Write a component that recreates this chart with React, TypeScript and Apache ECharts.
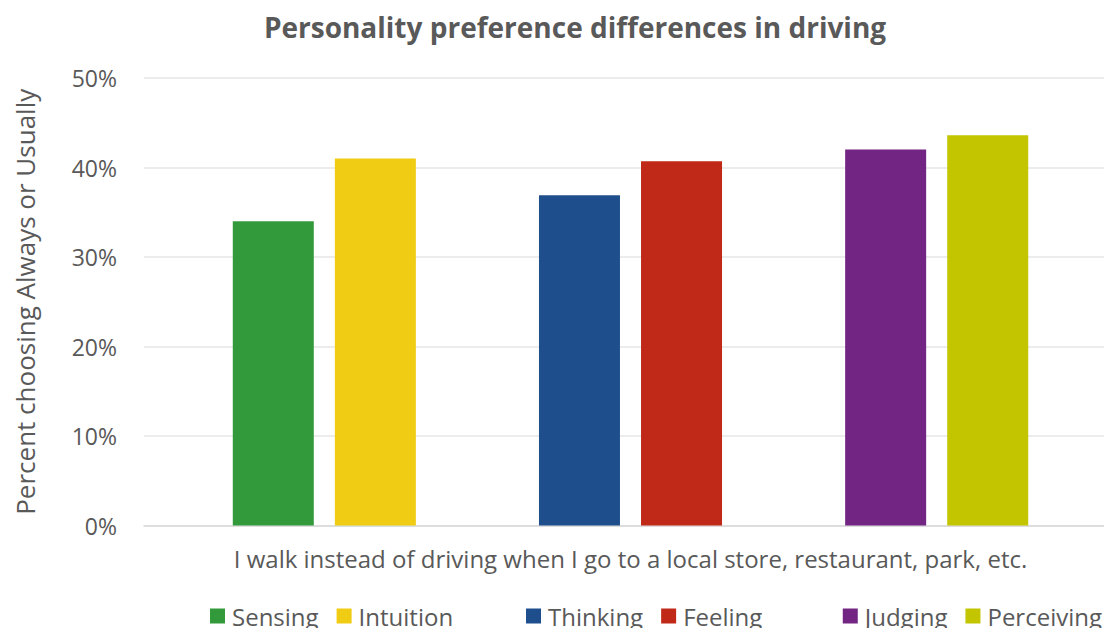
import React, { useEffect, useRef } from "react";
import * as echarts from "echarts";

const title = "Personality preference differences in driving";
const categories = [
  "I walk instead of driving when I go to a local store, restaurant, park, etc.",
];
const seriesNames = ["Sensing", "Intuition", "", "Thinking", "Feeling", "", "Judging", "Perceiving"];
const seriesValues: (number | null)[] = [34.0, 41.0, null, 36.9, 40.7, null, 42.0, 43.6];
const seriesColors = ["#339A3C", "#F0CC14", "#ffffff", "#1F4E8C", "#C02817", "#ffffff", "#722583", "#C3C500"];
const legendGroups = [
  ["Sensing", "Intuition"],
  ["Thinking", "Feeling"],
  ["Judging", "Perceiving"],
];
const legendPos: any[] = [{ left: 210 }, { left: 526 }, { right: 2 }];
const yAxisName = "Percent choosing Always or Usually";

const FONT = "'Open Sans', 'Noto Sans', sans-serif";
const TEXT = "#595959";

export default function App() {
  const ref = useRef<HTMLDivElement>(null);
  useEffect(() => {
    if (!ref.current) return;
    const chart = echarts.init(ref.current, null, { renderer: "svg" });
    chart.setOption({
      animation: false,
      backgroundColor: "#ffffff",
      textStyle: { fontFamily: FONT },
      title: {
        text: title,
        left: 570,
        textAlign: "center",
        top: 8,
        textStyle: { fontFamily: FONT, fontSize: 28, fontWeight: "bold", color: TEXT },
      },
      legend: legendGroups.map((g, i) => ({
        data: g,
        ...legendPos[i],
        top: 604,
        padding: 0,
        itemWidth: 15,
        itemHeight: 15,
        itemGap: 18,
        icon: "rect",
        selectedMode: false,
        textStyle: { fontFamily: FONT, fontSize: 24, color: TEXT, padding: [0, 0, 0, 2] },
      })),
      grid: [
        { left: 144, right: 0, top: 78, height: 447.5 },
        { left: 157, right: 0, top: 78, height: 447.5 },
      ],
      xAxis: [
        {
          type: "category",
          gridIndex: 0,
          data: categories,
          axisTick: { show: false },
          axisLine: { lineStyle: { color: "#D9D9D9", width: 1.5 } },
          axisLabel: { show: false },
        },
        {
          type: "category",
          gridIndex: 1,
          data: categories,
          axisTick: { show: false },
          axisLine: { show: false },
          axisLabel: { fontFamily: FONT, fontSize: 24, color: TEXT, margin: 21 },
        },
      ],
      yAxis: [
        {
          type: "value",
          gridIndex: 0,
          min: 0,
          max: 50,
          interval: 10,
          name: yAxisName,
          nameLocation: "middle",
          nameGap: 106,
          nameTextStyle: { fontFamily: FONT, fontSize: 26, color: TEXT },
          axisLabel: { formatter: "{value}%", fontFamily: FONT, fontSize: 23, color: TEXT, margin: 27 },
          axisLine: { show: false },
          axisTick: { show: false },
          splitLine: { lineStyle: { color: "#E6E6E6", width: 1.5 } },
        },
        {
          type: "value",
          gridIndex: 1,
          min: 0,
          max: 50,
          interval: 10,
          axisLabel: { show: false },
          axisLine: { show: false },
          axisTick: { show: false },
          splitLine: { show: false },
        },
      ],
      series: seriesNames.map((name, i) => ({
        name,
        type: "bar",
        xAxisIndex: 1,
        yAxisIndex: 1,
        data: [seriesValues[i]],
        barWidth: 81,
        barGap: "26%",
        itemStyle: { color: seriesColors[i] },
        silent: name === "",
      })),
    });
    return () => chart.dispose();
  }, []);
  return (
    <div
      ref={ref}
      style={{ position: "fixed", left: 0, top: 0, width: 1104, height: 628, background: "#fff" }}
    />
  );
}
